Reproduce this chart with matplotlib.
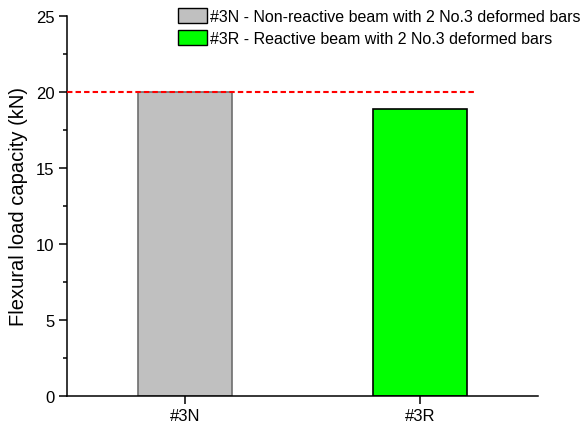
import numpy as np
import matplotlib.pyplot as plt
from matplotlib.patches import Patch

plt.rcParams['font.family'] = ['Liberation Sans', 'DejaVu Sans']

# capacidades de carga a flexion
labels  = ['#3N', '#3R']
loads   = [20.0, 18.87]
colores = ['#c0c0c0', '#00ff00']
bordes  = ['#6e6e6e', '#000000']
leyenda = ['#3N - Non-reactive beam with 2 No.3 deformed bars',
           '#3R - Reactive beam with 2 No.3 deformed bars']
ref     = 20.0

fig = plt.figure(figsize=[5.87, 4.31], dpi=100)
ax = fig.add_axes([0.1141, 0.080, 0.8024, 0.8805])

x = np.arange(len(labels))
ax.bar(x, loads, width=0.4, color=colores, edgecolor=bordes, linewidth=1.2, zorder=2)
ax.plot([-0.5, 1.24], [ref, ref], '--', color='#ff0000', linewidth=1.5,
        dashes=(2.6, 1.5), zorder=3, clip_on=False)

ax.set_xlim(-0.5, 1.5)
ax.set_ylim(0, 25)
ax.set_xticks(x)
ax.set_xticklabels(labels)
ax.set_yticks(np.arange(0, 26, 5))
ax.set_yticks(np.arange(2.5, 25, 5), minor=True)
ax.set_ylabel('Flexural load capacity (kN)', fontsize=14.5, labelpad=6)
ax.spines['top'].set_visible(False)
ax.spines['right'].set_visible(False)
ax.spines['left'].set_linewidth(1.1)
ax.spines['bottom'].set_linewidth(1.1)
ax.tick_params(axis='both', which='major', direction='out', length=5.5, width=1.1, labelsize=12)
ax.tick_params(axis='y', which='minor', direction='out', length=3, width=1.1)

handles = [Patch(facecolor=c, edgecolor='#000000', linewidth=1.0) for c in colores]
fig.legend(handles, leyenda, loc='upper left', bbox_to_anchor=(0.303, 0.978),
           frameon=False, fontsize=11.5, handlelength=1.8, handleheight=1.05,
           handletextpad=0.2, labelspacing=0.35, borderaxespad=0.0, borderpad=0.0)

plt.savefig('out.png', dpi=100)
